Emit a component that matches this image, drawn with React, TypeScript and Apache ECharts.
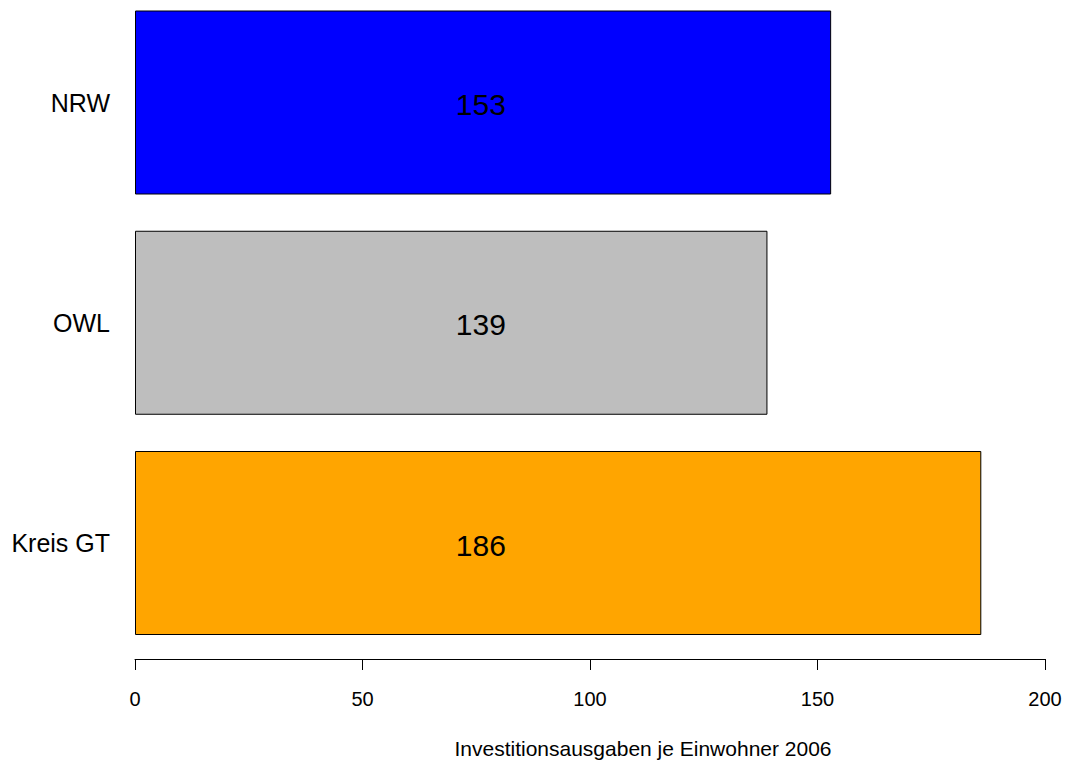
import React, { useEffect, useRef } from "react";
import * as echarts from "echarts";

const categories = ["NRW", "OWL", "Kreis GT"];
const values = [153, 139, 186];
const colors = ["#0000FF", "#BEBEBE", "#FFA500"];
const xTicks = [0, 50, 100, 150, 200];
const xTitle = "Investitionsausgaben je Einwohner 2006";

const W = 1067;
const H = 761;
const GRID_LEFT = 135;
const GRID_RIGHT = 22;
const LABEL_VALUE_POS = 76; // value-axis position where R placed the text

export default function App() {
  const ref = useRef<HTMLDivElement>(null);
  useEffect(() => {
    document.body.style.margin = "0";
    const chart = echarts.init(ref.current!, null, { renderer: "svg" });
    const gridWidth = W - GRID_LEFT - GRID_RIGHT;
    const labelX = (gridWidth * LABEL_VALUE_POS) / (xTicks[xTicks.length - 1] - xTicks[0]);
    chart.setOption({
      animation: false,
      backgroundColor: "#ffffff",
      textStyle: { fontFamily: "Liberation Sans, Arial, sans-serif", color: "#000" },
      grid: { left: GRID_LEFT, right: GRID_RIGHT, top: 102.5, bottom: 218, containLabel: false },
      xAxis: {
        type: "value",
        min: xTicks[0],
        max: xTicks[xTicks.length - 1],
        interval: 50,
        position: "bottom",
        offset: 116,
        axisLine: { show: true, lineStyle: { color: "#000", width: 1 } },
        axisTick: { show: true, length: 11, lineStyle: { color: "#000", width: 1 } },
        axisLabel: { show: true, fontSize: 20, color: "#000", margin: 30, fontFamily: "Liberation Sans, Arial, sans-serif" },
        splitLine: { show: false },
      },
      yAxis: {
        type: "category",
        data: categories,
        inverse: true,
        boundaryGap: false,
        axisLine: { show: false },
        axisTick: { show: false },
        splitLine: { show: false },
        axisLabel: { fontSize: 25, color: "#000", margin: 25, fontFamily: "Liberation Sans, Arial, sans-serif" },
      },
      series: [
        {
          type: "bar",
          barWidth: 184,
          data: values.map((v, i) => ({
            value: v,
            itemStyle: { color: colors[i], borderColor: "#000", borderWidth: 1 },
          })),
          label: {
            show: true,
            position: [labelX, "50%"],
            offset: [0, 2],
            align: "center",
            verticalAlign: "middle",
            fontSize: 30,
            color: "#000",
            fontFamily: "Liberation Sans, Arial, sans-serif",
            formatter: (p: any) => String(p.value),
          },
        },
      ],
      graphic: [
        {
          type: "text",
          x: 643,
          y: 748,
          style: {
            text: xTitle,
            fontSize: 21,
            fill: "#000",
            align: "center",
            verticalAlign: "middle",
            fontFamily: "Liberation Sans, Arial, sans-serif",
          },
        },
      ],
    });
    return () => chart.dispose();
  }, []);
  return <div ref={ref} style={{ width: W, height: H }} />;
}
